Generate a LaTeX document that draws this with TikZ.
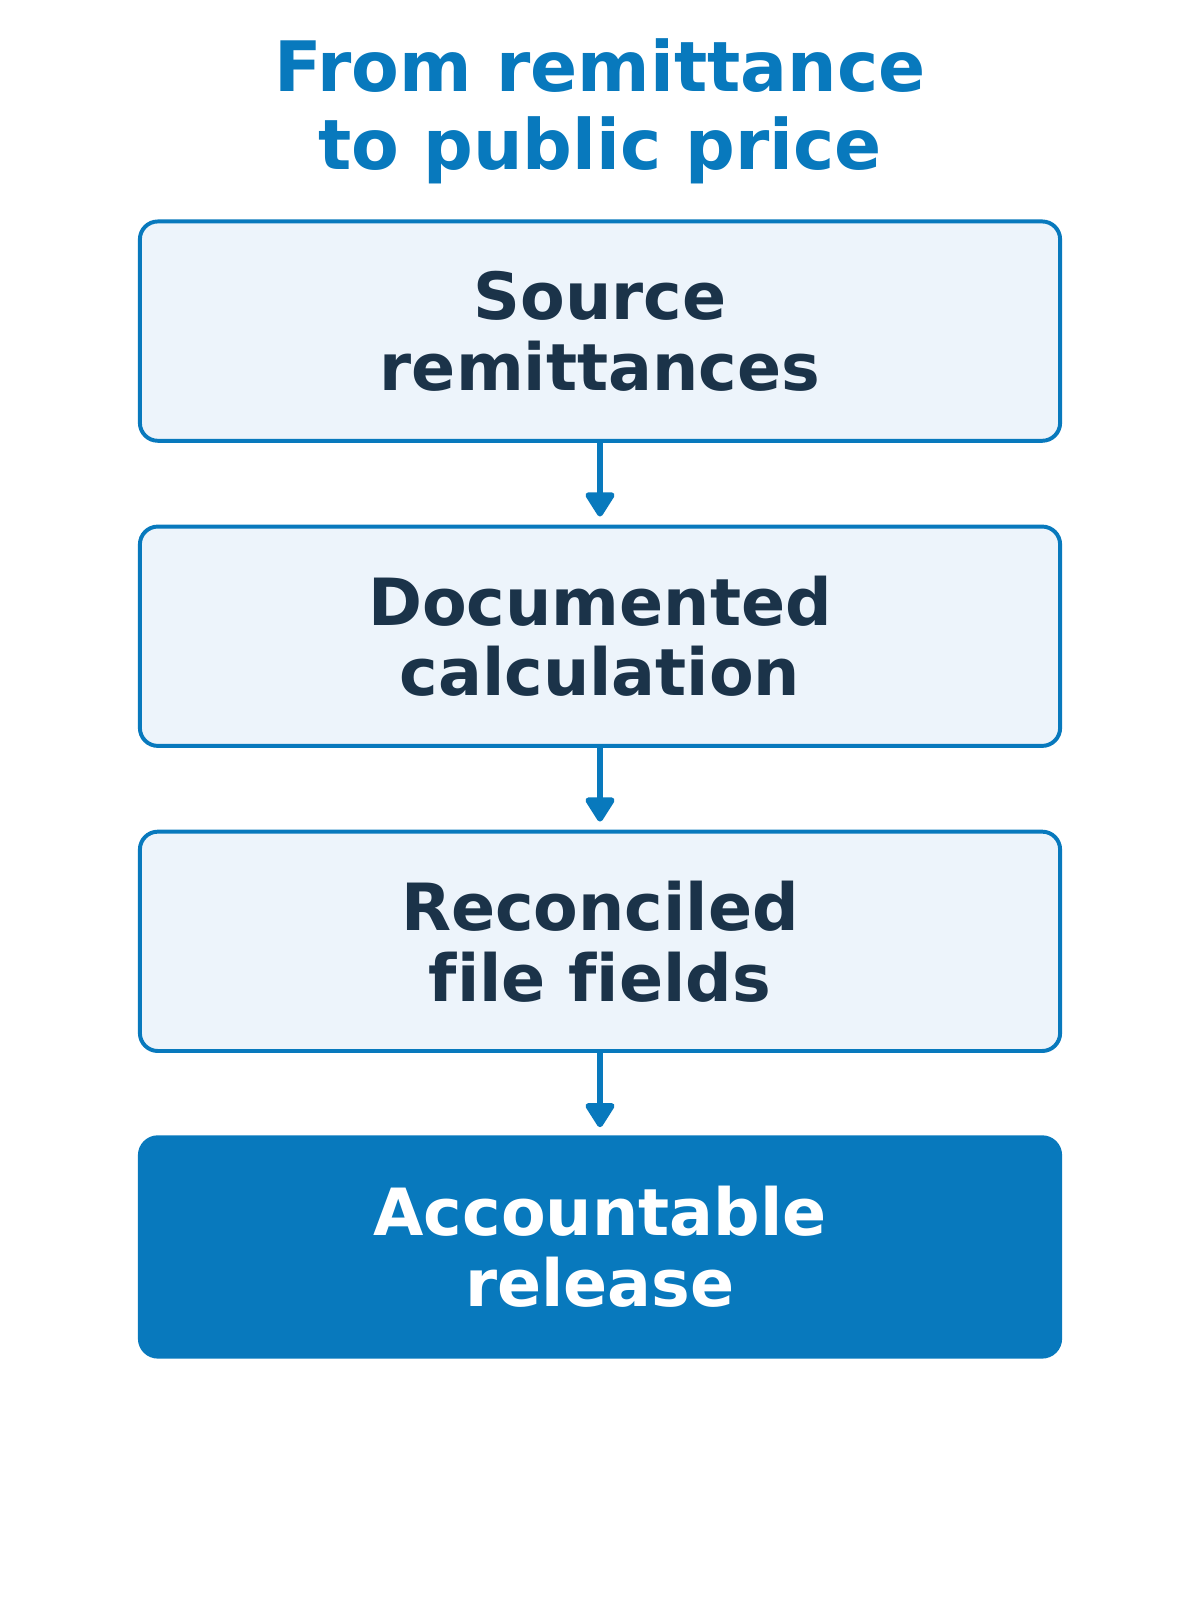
\documentclass[tikz,border=0pt]{standalone}
\usepackage{fontspec}
\setmainfont[Ligatures=NoCommon]{DejaVu Sans}
\usetikzlibrary{arrows.meta,positioning}
\definecolor{flowblue}{HTML}{0879BD}
\definecolor{flowfill}{HTML}{EDF4FB}
\definecolor{flowink}{HTML}{1B3349}
\tikzset{
  stepbox/.style = {draw=flowblue, fill=flowfill, line width=2.2pt, rounded corners=10pt,
    minimum width=18.04cm, minimum height=4.3cm, align=center, text=flowink,
    font=\fontsize{36.3}{39.5}\selectfont\bfseries},
  finalbox/.style = {stepbox, fill=flowblue, text=white},
  flowarrow/.style = {-{Triangle[length=15pt,width=18pt,round]}, draw=flowblue, line width=3.2pt, shorten >=4.5pt},
}
\begin{document}
\begin{tikzpicture}[x=0.02cm,y=-0.02cm]
\useasboundingbox (0,0) rectangle (1176,1568);

% title
\node[text=flowblue, align=center, font=\fontsize{38.8}{43.6}\selectfont\bfseries] (title) at (588,109)
  {From remittance\\to public price};

% steps
\node[stepbox] (source) at (588,324.5) {Source\\remittances};
\node[stepbox] (calc) at (588,623.5) {Documented\\calculation};
\node[stepbox] (recon) at (588,922.5) {Reconciled\\file fields};
\node[finalbox] (release) at (588,1222) {Accountable\\release};

\draw[flowarrow] (source) -- (calc);
\draw[flowarrow] (calc) -- (recon);
\draw[flowarrow] (recon) -- (release);

\end{tikzpicture}
\end{document}
